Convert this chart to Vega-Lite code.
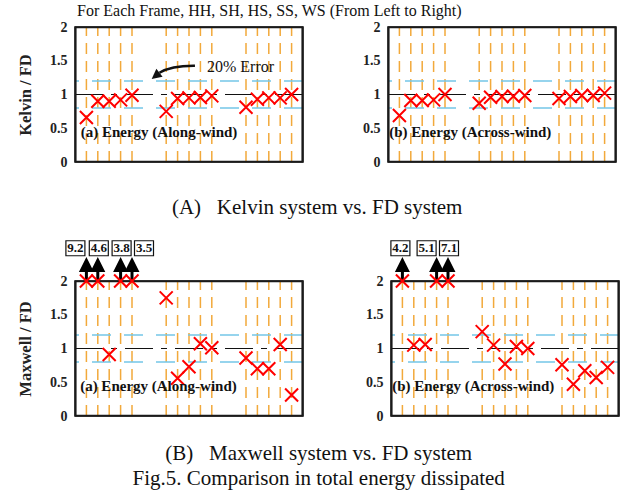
{
  "$schema": "https://vega.github.io/schema/vega-lite/v6.json",
  "background": "white",
  "padding": {"left": 16, "top": 2, "right": 5, "bottom": 5},
  "datasets": {
    "kelvinAlong": [
      {"group": "I", "frame": "HH", "pos": 1, "ratio": 0.66},
      {"group": "I", "frame": "SH", "pos": 2, "ratio": 0.9},
      {"group": "I", "frame": "HS", "pos": 3, "ratio": 0.9},
      {"group": "I", "frame": "SS", "pos": 4, "ratio": 0.92},
      {"group": "I", "frame": "WS", "pos": 5, "ratio": 0.99},
      {"group": "II", "frame": "HH", "pos": 8, "ratio": 0.75},
      {"group": "II", "frame": "SH", "pos": 9, "ratio": 0.94},
      {"group": "II", "frame": "HS", "pos": 10, "ratio": 0.95},
      {"group": "II", "frame": "SS", "pos": 11, "ratio": 0.955},
      {"group": "II", "frame": "WS", "pos": 12, "ratio": 0.98},
      {"group": "III", "frame": "HH", "pos": 15, "ratio": 0.81},
      {"group": "III", "frame": "SH", "pos": 16, "ratio": 0.93},
      {"group": "III", "frame": "HS", "pos": 17, "ratio": 0.95},
      {"group": "III", "frame": "SS", "pos": 18, "ratio": 0.95},
      {"group": "III", "frame": "WS", "pos": 19, "ratio": 1.0}
    ],
    "kelvinAcross": [
      {"group": "I", "frame": "HH", "pos": 1, "ratio": 0.69},
      {"group": "I", "frame": "SH", "pos": 2, "ratio": 0.91},
      {"group": "I", "frame": "HS", "pos": 3, "ratio": 0.91},
      {"group": "I", "frame": "SS", "pos": 4, "ratio": 0.92},
      {"group": "I", "frame": "WS", "pos": 5, "ratio": 1.0},
      {"group": "II", "frame": "HH", "pos": 8, "ratio": 0.87},
      {"group": "II", "frame": "SH", "pos": 9, "ratio": 0.96},
      {"group": "II", "frame": "HS", "pos": 10, "ratio": 0.97},
      {"group": "II", "frame": "SS", "pos": 11, "ratio": 0.975},
      {"group": "II", "frame": "WS", "pos": 12, "ratio": 0.985},
      {"group": "III", "frame": "HH", "pos": 15, "ratio": 0.94},
      {"group": "III", "frame": "SH", "pos": 16, "ratio": 0.97},
      {"group": "III", "frame": "HS", "pos": 17, "ratio": 0.985},
      {"group": "III", "frame": "SS", "pos": 18, "ratio": 0.985},
      {"group": "III", "frame": "WS", "pos": 19, "ratio": 1.02}
    ],
    "maxwellAlong": [
      {"group": "I", "frame": "HH", "pos": 1, "ratio": 9.2},
      {"group": "I", "frame": "SH", "pos": 2, "ratio": 4.6},
      {"group": "I", "frame": "HS", "pos": 3, "ratio": 0.91},
      {"group": "I", "frame": "SS", "pos": 4, "ratio": 3.8},
      {"group": "I", "frame": "WS", "pos": 5, "ratio": 3.5},
      {"group": "II", "frame": "HH", "pos": 8, "ratio": 1.75},
      {"group": "II", "frame": "SH", "pos": 9, "ratio": 0.56},
      {"group": "II", "frame": "HS", "pos": 10, "ratio": 0.73},
      {"group": "II", "frame": "SS", "pos": 11, "ratio": 1.07},
      {"group": "II", "frame": "WS", "pos": 12, "ratio": 1.01},
      {"group": "III", "frame": "HH", "pos": 15, "ratio": 0.86},
      {"group": "III", "frame": "SH", "pos": 16, "ratio": 0.7},
      {"group": "III", "frame": "HS", "pos": 17, "ratio": 0.7},
      {"group": "III", "frame": "SS", "pos": 18, "ratio": 1.06},
      {"group": "III", "frame": "WS", "pos": 19, "ratio": 0.31}
    ],
    "maxwellAcross": [
      {"group": "I", "frame": "HH", "pos": 1, "ratio": 4.2},
      {"group": "I", "frame": "SH", "pos": 2, "ratio": 1.05},
      {"group": "I", "frame": "HS", "pos": 3, "ratio": 1.06},
      {"group": "I", "frame": "SS", "pos": 4, "ratio": 5.1},
      {"group": "I", "frame": "WS", "pos": 5, "ratio": 7.1},
      {"group": "II", "frame": "HH", "pos": 8, "ratio": 1.25},
      {"group": "II", "frame": "SH", "pos": 9, "ratio": 1.05},
      {"group": "II", "frame": "HS", "pos": 10, "ratio": 0.77},
      {"group": "II", "frame": "SS", "pos": 11, "ratio": 1.03},
      {"group": "II", "frame": "WS", "pos": 12, "ratio": 1.0},
      {"group": "III", "frame": "HH", "pos": 15, "ratio": 0.76},
      {"group": "III", "frame": "SH", "pos": 16, "ratio": 0.47},
      {"group": "III", "frame": "HS", "pos": 17, "ratio": 0.67},
      {"group": "III", "frame": "SS", "pos": 18, "ratio": 0.57},
      {"group": "III", "frame": "WS", "pos": 19, "ratio": 0.72}
    ],
    "refs": [
      {"kind": "band", "ref": 0.8},
      {"kind": "band", "ref": 1.2},
      {"kind": "unity", "ref": 1.0},
      {"kind": "hframe", "ref": 0.006},
      {"kind": "hframe", "ref": 1.994}
    ],
    "vframe": [{"xpos": 0.06}, {"xpos": 19.94}]
  },
  "spacing": 19,
  "vconcat": [
    {
      "hconcat": [
        {
          "width": 228, "height": 135,
          "layer": [
            {"data": {"name": "kelvinAlong"}, "mark": {"type": "rule", "stroke": "#F2A93B", "strokeWidth": 1.5, "strokeDash": [11, 7]},
             "encoding": {"x": {"field": "pos", "type": "quantitative", "scale": {"domain": [0, 20]}, "axis": null},
                          "y": {"datum": 0, "type": "quantitative", "scale": {"domain": [0, 2]}, "axis": null}, "y2": {"datum": 2}}},
            {"data": {"name": "refs"}, "transform": [{"filter": "datum.kind == 'band'"}], "mark": {"type": "rule", "stroke": "#74C6E8", "strokeWidth": 1.6, "strokeDash": [19, 13]},
             "encoding": {"y": {"field": "ref", "type": "quantitative", "scale": {"domain": [0, 2]}, "axis": null}}},
            {"data": {"name": "refs"}, "transform": [{"filter": "datum.kind == 'unity'"}], "mark": {"type": "rule", "stroke": "#111", "strokeWidth": 1.2, "strokeDash": [28, 8, 6, 8]},
             "encoding": {"y": {"field": "ref", "type": "quantitative", "scale": {"domain": [0, 2]}, "axis": null}}},
            {"data": {"name": "refs"}, "transform": [{"filter": "datum.kind == 'hframe'"}], "mark": {"type": "rule", "stroke": "#1a1a1a", "strokeWidth": 1.8},
             "encoding": {"y": {"field": "ref", "type": "quantitative", "scale": {"domain": [0, 2]}, "axis": null}}},
            {"data": {"name": "vframe"}, "mark": {"type": "rule", "stroke": "#1a1a1a", "strokeWidth": 1.8},
             "encoding": {"x": {"field": "xpos", "type": "quantitative", "scale": {"domain": [0, 20]}, "axis": null},
                          "y": {"datum": 0, "type": "quantitative", "scale": {"domain": [0, 2]}, "axis": null}, "y2": {"datum": 2}}},
            {"data": {"name": "kelvinAlong"}, "mark": {"type": "point", "shape": "M-1,-1L1,1M-1,1L1,-1", "filled": false, "stroke": "#FF0000", "strokeWidth": 2, "size": 169, "opacity": 1},
             "encoding": {"x": {"field": "pos", "type": "quantitative", "scale": {"domain": [0, 20]}, "axis": {"values": [3, 10, 17], "labelExpr": "datum.value == 3 ? 'I' : datum.value == 10 ? 'II' : 'III'", "ticks": false, "labelPadding": 4, "title": null}},
                          "y": {"field": "ratio", "type": "quantitative", "scale": {"domain": [0, 2], "clamp": true}, "axis": {"title": "Kelvin / FD", "values": [0, 0.5, 1, 1.5, 2], "format": "~g", "ticks": false, "labelPadding": 8, "titlePadding": 16}}}},
            {"data": {"values": [{"label": "(a) Energy (Along-wind)"}]}, "mark": {"type": "text", "align": "left", "baseline": "middle", "fontWeight": "bold", "fontSize": 15, "font": "Liberation Serif", "color": "#111"},
             "encoding": {"x": {"datum": 0.5, "type": "quantitative", "axis": null}, "y": {"datum": 0.44, "type": "quantitative", "scale": {"domain": [0, 2]}, "axis": null}, "text": {"field": "label"}}},
            {"data": {"values": [{"label": "For Each Frame, HH, SH, HS, SS, WS (From Left to Right)"}]}, "mark": {"type": "text", "align": "left", "baseline": "middle", "fontSize": 16, "font": "Liberation Serif", "color": "#111"},
             "encoding": {"x": {"datum": 0.18, "type": "quantitative", "axis": null}, "y": {"datum": 2.237, "type": "quantitative", "scale": {"domain": [0, 2]}, "axis": null}, "text": {"field": "label"}}},
            {"data": {"values": [{"label": "20% Error"}]}, "mark": {"type": "text", "align": "left", "baseline": "middle", "fontSize": 16, "font": "Liberation Serif", "color": "#111"},
             "encoding": {"x": {"datum": 11.58, "type": "quantitative", "axis": null}, "y": {"datum": 1.41, "type": "quantitative", "scale": {"domain": [0, 2]}, "axis": null}, "text": {"field": "label"}}},
            {"data": {"values": [{"label": "20% Error"}]}, "mark": {"type": "point", "shape": "M0.84,-0.21Q-0.1,-0.22,-0.58,0.07", "filled": false, "stroke": "#111", "strokeWidth": 2.5, "size": 2500, "opacity": 1},
             "encoding": {"x": {"datum": 8.68, "type": "quantitative", "axis": null}, "y": {"datum": 1.348, "type": "quantitative", "scale": {"domain": [0, 2]}, "axis": null}}},
            {"data": {"values": [{"label": "20% Error"}]}, "mark": {"type": "point", "shape": "M-0.89,0.32L-0.456,0.226L-0.704,-0.086Z", "filled": true, "fill": "#111", "strokeWidth": 0, "size": 2500, "opacity": 1},
             "encoding": {"x": {"datum": 8.68, "type": "quantitative", "axis": null}, "y": {"datum": 1.348, "type": "quantitative", "scale": {"domain": [0, 2]}, "axis": null}}}
          ],
          "resolve": {"scale": {"y": "independent"}, "axis": {"y": "independent"}}
        },
        {
          "width": 228, "height": 135,
          "layer": [
            {"data": {"name": "kelvinAcross"}, "mark": {"type": "rule", "stroke": "#F2A93B", "strokeWidth": 1.5, "strokeDash": [11, 7]},
             "encoding": {"x": {"field": "pos", "type": "quantitative", "scale": {"domain": [0, 20]}, "axis": null},
                          "y": {"datum": 0, "type": "quantitative", "scale": {"domain": [0, 2]}, "axis": null}, "y2": {"datum": 2}}},
            {"data": {"name": "refs"}, "transform": [{"filter": "datum.kind == 'band'"}], "mark": {"type": "rule", "stroke": "#74C6E8", "strokeWidth": 1.6, "strokeDash": [19, 13]},
             "encoding": {"y": {"field": "ref", "type": "quantitative", "scale": {"domain": [0, 2]}, "axis": null}}},
            {"data": {"name": "refs"}, "transform": [{"filter": "datum.kind == 'unity'"}], "mark": {"type": "rule", "stroke": "#111", "strokeWidth": 1.2, "strokeDash": [28, 8, 6, 8]},
             "encoding": {"y": {"field": "ref", "type": "quantitative", "scale": {"domain": [0, 2]}, "axis": null}}},
            {"data": {"name": "refs"}, "transform": [{"filter": "datum.kind == 'hframe'"}], "mark": {"type": "rule", "stroke": "#1a1a1a", "strokeWidth": 1.8},
             "encoding": {"y": {"field": "ref", "type": "quantitative", "scale": {"domain": [0, 2]}, "axis": null}}},
            {"data": {"name": "vframe"}, "mark": {"type": "rule", "stroke": "#1a1a1a", "strokeWidth": 1.8},
             "encoding": {"x": {"field": "xpos", "type": "quantitative", "scale": {"domain": [0, 20]}, "axis": null},
                          "y": {"datum": 0, "type": "quantitative", "scale": {"domain": [0, 2]}, "axis": null}, "y2": {"datum": 2}}},
            {"data": {"name": "kelvinAcross"}, "mark": {"type": "point", "shape": "M-1,-1L1,1M-1,1L1,-1", "filled": false, "stroke": "#FF0000", "strokeWidth": 2, "size": 169, "opacity": 1},
             "encoding": {"x": {"field": "pos", "type": "quantitative", "scale": {"domain": [0, 20]}, "axis": {"values": [3, 10, 17], "labelExpr": "datum.value == 3 ? 'I' : datum.value == 10 ? 'II' : 'III'", "ticks": false, "labelPadding": 4, "title": null}},
                          "y": {"field": "ratio", "type": "quantitative", "scale": {"domain": [0, 2], "clamp": true}, "axis": {"title": null, "values": [0, 0.5, 1, 1.5, 2], "format": "~g", "ticks": false, "labelPadding": 8}}}},
            {"data": {"values": [{"label": "(b) Energy (Across-wind)"}]}, "mark": {"type": "text", "align": "left", "baseline": "middle", "fontWeight": "bold", "fontSize": 15, "font": "Liberation Serif", "color": "#111"},
             "encoding": {"x": {"datum": 0.1, "type": "quantitative", "axis": null}, "y": {"datum": 0.44, "type": "quantitative", "scale": {"domain": [0, 2]}, "axis": null}, "text": {"field": "label"}}}
          ],
          "resolve": {"scale": {"y": "independent"}, "axis": {"y": "independent"}}
        }
      ],
      "spacing": 85,
      "bounds": "flush",
      "title": {"text": "(A)\u00a0\u00a0\u00a0Kelvin system vs. FD system", "orient": "bottom", "anchor": "middle", "offset": 27}
    },
    {
      "hconcat": [
        {
          "width": 228, "height": 135,
          "layer": [
            {"data": {"name": "maxwellAlong"}, "mark": {"type": "rule", "stroke": "#F2A93B", "strokeWidth": 1.5, "strokeDash": [11, 7]},
             "encoding": {"x": {"field": "pos", "type": "quantitative", "scale": {"domain": [0, 20]}, "axis": null},
                          "y": {"datum": 0, "type": "quantitative", "scale": {"domain": [0, 2]}, "axis": null}, "y2": {"datum": 2}}},
            {"data": {"name": "refs"}, "transform": [{"filter": "datum.kind == 'band'"}], "mark": {"type": "rule", "stroke": "#74C6E8", "strokeWidth": 1.6, "strokeDash": [19, 13]},
             "encoding": {"y": {"field": "ref", "type": "quantitative", "scale": {"domain": [0, 2]}, "axis": null}}},
            {"data": {"name": "refs"}, "transform": [{"filter": "datum.kind == 'unity'"}], "mark": {"type": "rule", "stroke": "#111", "strokeWidth": 1.2, "strokeDash": [28, 8, 6, 8]},
             "encoding": {"y": {"field": "ref", "type": "quantitative", "scale": {"domain": [0, 2]}, "axis": null}}},
            {"data": {"name": "refs"}, "transform": [{"filter": "datum.kind == 'hframe'"}], "mark": {"type": "rule", "stroke": "#1a1a1a", "strokeWidth": 1.8},
             "encoding": {"y": {"field": "ref", "type": "quantitative", "scale": {"domain": [0, 2]}, "axis": null}}},
            {"data": {"name": "vframe"}, "mark": {"type": "rule", "stroke": "#1a1a1a", "strokeWidth": 1.8},
             "encoding": {"x": {"field": "xpos", "type": "quantitative", "scale": {"domain": [0, 20]}, "axis": null},
                          "y": {"datum": 0, "type": "quantitative", "scale": {"domain": [0, 2]}, "axis": null}, "y2": {"datum": 2}}},
            {"data": {"name": "maxwellAlong"}, "transform": [{"filter": "datum.ratio > 2"}], "mark": {"type": "point", "shape": "M0,-1L0.625,0.25L0.125,0.25L0.125,1L-0.125,1L-0.125,0.25L-0.625,0.25Z", "filled": true, "fill": "#000", "strokeWidth": 0, "size": 576, "opacity": 1},
             "encoding": {"x": {"field": "pos", "type": "quantitative", "scale": {"domain": [0, 20]}, "axis": null}, "y": {"datum": 2.176, "type": "quantitative", "scale": {"domain": [0, 2]}, "axis": null}}},
            {"data": {"name": "maxwellAlong"}, "transform": [{"filter": "datum.ratio > 2 && datum.pos == 1"}],
             "encoding": {"x": {"field": "pos", "type": "quantitative", "scale": {"domain": [0, 20]}, "axis": null}, "y": {"datum": 2.485, "type": "quantitative", "scale": {"domain": [0, 2]}, "axis": null}},
             "layer": [
               {"mark": {"type": "point", "shape": "M-1,-0.79H1V0.79H-1Z", "filled": true, "fill": "white", "stroke": "#111", "strokeWidth": 1.2, "size": 361, "opacity": 1, "xOffset": -11}},
               {"mark": {"type": "text", "fontWeight": "bold", "fontSize": 13, "font": "Liberation Serif", "baseline": "middle", "xOffset": -11, "color": "#111"}, "encoding": {"text": {"field": "ratio", "format": ".1f"}}}
             ]},
            {"data": {"name": "maxwellAlong"}, "transform": [{"filter": "datum.ratio > 2 && (datum.pos == 2 || datum.pos == 4)"}],
             "encoding": {"x": {"field": "pos", "type": "quantitative", "scale": {"domain": [0, 20]}, "axis": null}, "y": {"datum": 2.485, "type": "quantitative", "scale": {"domain": [0, 2]}, "axis": null}},
             "layer": [
               {"mark": {"type": "point", "shape": "M-1,-0.79H1V0.79H-1Z", "filled": true, "fill": "white", "stroke": "#111", "strokeWidth": 1.2, "size": 361, "opacity": 1, "xOffset": 1}},
               {"mark": {"type": "text", "fontWeight": "bold", "fontSize": 13, "font": "Liberation Serif", "baseline": "middle", "xOffset": 1, "color": "#111"}, "encoding": {"text": {"field": "ratio", "format": ".1f"}}}
             ]},
            {"data": {"name": "maxwellAlong"}, "transform": [{"filter": "datum.ratio > 2 && datum.pos == 5"}],
             "encoding": {"x": {"field": "pos", "type": "quantitative", "scale": {"domain": [0, 20]}, "axis": null}, "y": {"datum": 2.485, "type": "quantitative", "scale": {"domain": [0, 2]}, "axis": null}},
             "layer": [
               {"mark": {"type": "point", "shape": "M-1,-0.79H1V0.79H-1Z", "filled": true, "fill": "white", "stroke": "#111", "strokeWidth": 1.2, "size": 361, "opacity": 1, "xOffset": 12}},
               {"mark": {"type": "text", "fontWeight": "bold", "fontSize": 13, "font": "Liberation Serif", "baseline": "middle", "xOffset": 12, "color": "#111"}, "encoding": {"text": {"field": "ratio", "format": ".1f"}}}
             ]},
            {"data": {"name": "maxwellAlong"}, "mark": {"type": "point", "shape": "M-1,-1L1,1M-1,1L1,-1", "filled": false, "stroke": "#FF0000", "strokeWidth": 2, "size": 169, "opacity": 1},
             "encoding": {"x": {"field": "pos", "type": "quantitative", "scale": {"domain": [0, 20]}, "axis": {"values": [3, 10, 17], "labelExpr": "datum.value == 3 ? 'I' : datum.value == 10 ? 'II' : 'III'", "ticks": false, "labelPadding": 4, "title": null}},
                          "y": {"field": "ratio", "type": "quantitative", "scale": {"domain": [0, 2], "clamp": true}, "axis": {"title": "Maxwell / FD", "values": [0, 0.5, 1, 1.5, 2], "format": "~g", "ticks": false, "labelPadding": 8, "titlePadding": 16}}}},
            {"data": {"values": [{"label": "(a) Energy (Along-wind)"}]}, "mark": {"type": "text", "align": "left", "baseline": "middle", "fontWeight": "bold", "fontSize": 15, "font": "Liberation Serif", "color": "#111"},
             "encoding": {"x": {"datum": 0.45, "type": "quantitative", "axis": null}, "y": {"datum": 0.44, "type": "quantitative", "scale": {"domain": [0, 2]}, "axis": null}, "text": {"field": "label"}}}
          ],
          "resolve": {"scale": {"y": "independent"}, "axis": {"y": "independent"}}
        },
        {
          "width": 228, "height": 135,
          "layer": [
            {"data": {"name": "maxwellAcross"}, "mark": {"type": "rule", "stroke": "#F2A93B", "strokeWidth": 1.5, "strokeDash": [11, 7]},
             "encoding": {"x": {"field": "pos", "type": "quantitative", "scale": {"domain": [0, 20]}, "axis": null},
                          "y": {"datum": 0, "type": "quantitative", "scale": {"domain": [0, 2]}, "axis": null}, "y2": {"datum": 2}}},
            {"data": {"name": "refs"}, "transform": [{"filter": "datum.kind == 'band'"}], "mark": {"type": "rule", "stroke": "#74C6E8", "strokeWidth": 1.6, "strokeDash": [19, 13]},
             "encoding": {"y": {"field": "ref", "type": "quantitative", "scale": {"domain": [0, 2]}, "axis": null}}},
            {"data": {"name": "refs"}, "transform": [{"filter": "datum.kind == 'unity'"}], "mark": {"type": "rule", "stroke": "#111", "strokeWidth": 1.2, "strokeDash": [28, 8, 6, 8]},
             "encoding": {"y": {"field": "ref", "type": "quantitative", "scale": {"domain": [0, 2]}, "axis": null}}},
            {"data": {"name": "refs"}, "transform": [{"filter": "datum.kind == 'hframe'"}], "mark": {"type": "rule", "stroke": "#1a1a1a", "strokeWidth": 1.8},
             "encoding": {"y": {"field": "ref", "type": "quantitative", "scale": {"domain": [0, 2]}, "axis": null}}},
            {"data": {"name": "vframe"}, "mark": {"type": "rule", "stroke": "#1a1a1a", "strokeWidth": 1.8},
             "encoding": {"x": {"field": "xpos", "type": "quantitative", "scale": {"domain": [0, 20]}, "axis": null},
                          "y": {"datum": 0, "type": "quantitative", "scale": {"domain": [0, 2]}, "axis": null}, "y2": {"datum": 2}}},
            {"data": {"name": "maxwellAcross"}, "transform": [{"filter": "datum.ratio > 2"}], "mark": {"type": "point", "shape": "M0,-1L0.625,0.25L0.125,0.25L0.125,1L-0.125,1L-0.125,0.25L-0.625,0.25Z", "filled": true, "fill": "#000", "strokeWidth": 0, "size": 576, "opacity": 1},
             "encoding": {"x": {"field": "pos", "type": "quantitative", "scale": {"domain": [0, 20]}, "axis": null}, "y": {"datum": 2.176, "type": "quantitative", "scale": {"domain": [0, 2]}, "axis": null}}},
            {"data": {"name": "maxwellAcross"}, "transform": [{"filter": "datum.ratio > 2 && datum.pos == 1"}],
             "encoding": {"x": {"field": "pos", "type": "quantitative", "scale": {"domain": [0, 20]}, "axis": null}, "y": {"datum": 2.485, "type": "quantitative", "scale": {"domain": [0, 2]}, "axis": null}},
             "layer": [
               {"mark": {"type": "point", "shape": "M-1,-0.79H1V0.79H-1Z", "filled": true, "fill": "white", "stroke": "#111", "strokeWidth": 1.2, "size": 361, "opacity": 1, "xOffset": -2}},
               {"mark": {"type": "text", "fontWeight": "bold", "fontSize": 13, "font": "Liberation Serif", "baseline": "middle", "xOffset": -2, "color": "#111"}, "encoding": {"text": {"field": "ratio", "format": ".1f"}}}
             ]},
            {"data": {"name": "maxwellAcross"}, "transform": [{"filter": "datum.ratio > 2 && datum.pos == 4"}],
             "encoding": {"x": {"field": "pos", "type": "quantitative", "scale": {"domain": [0, 20]}, "axis": null}, "y": {"datum": 2.485, "type": "quantitative", "scale": {"domain": [0, 2]}, "axis": null}},
             "layer": [
               {"mark": {"type": "point", "shape": "M-1,-0.79H1V0.79H-1Z", "filled": true, "fill": "white", "stroke": "#111", "strokeWidth": 1.2, "size": 361, "opacity": 1, "xOffset": -10}},
               {"mark": {"type": "text", "fontWeight": "bold", "fontSize": 13, "font": "Liberation Serif", "baseline": "middle", "xOffset": -10, "color": "#111"}, "encoding": {"text": {"field": "ratio", "format": ".1f"}}}
             ]},
            {"data": {"name": "maxwellAcross"}, "transform": [{"filter": "datum.ratio > 2 && datum.pos == 5"}],
             "encoding": {"x": {"field": "pos", "type": "quantitative", "scale": {"domain": [0, 20]}, "axis": null}, "y": {"datum": 2.485, "type": "quantitative", "scale": {"domain": [0, 2]}, "axis": null}},
             "layer": [
               {"mark": {"type": "point", "shape": "M-1,-0.79H1V0.79H-1Z", "filled": true, "fill": "white", "stroke": "#111", "strokeWidth": 1.2, "size": 361, "opacity": 1, "xOffset": 1}},
               {"mark": {"type": "text", "fontWeight": "bold", "fontSize": 13, "font": "Liberation Serif", "baseline": "middle", "xOffset": 1, "color": "#111"}, "encoding": {"text": {"field": "ratio", "format": ".1f"}}}
             ]},
            {"data": {"name": "maxwellAcross"}, "mark": {"type": "point", "shape": "M-1,-1L1,1M-1,1L1,-1", "filled": false, "stroke": "#FF0000", "strokeWidth": 2, "size": 169, "opacity": 1},
             "encoding": {"x": {"field": "pos", "type": "quantitative", "scale": {"domain": [0, 20]}, "axis": {"values": [3, 10, 17], "labelExpr": "datum.value == 3 ? 'I' : datum.value == 10 ? 'II' : 'III'", "ticks": false, "labelPadding": 4, "title": null}},
                          "y": {"field": "ratio", "type": "quantitative", "scale": {"domain": [0, 2], "clamp": true}, "axis": {"title": null, "values": [0, 0.5, 1, 1.5, 2], "format": "~g", "ticks": false, "labelPadding": 8}}}},
            {"data": {"values": [{"label": "(b) Energy (Across-wind)"}]}, "mark": {"type": "text", "align": "left", "baseline": "middle", "fontWeight": "bold", "fontSize": 15, "font": "Liberation Serif", "color": "#111"},
             "encoding": {"x": {"datum": 0.1, "type": "quantitative", "axis": null}, "y": {"datum": 0.44, "type": "quantitative", "scale": {"domain": [0, 2]}, "axis": null}, "text": {"field": "label"}}}
          ],
          "resolve": {"scale": {"y": "independent"}, "axis": {"y": "independent"}}
        }
      ],
      "spacing": 88,
      "bounds": "flush",
      "title": {"text": ["(B)\u00a0\u00a0\u00a0Maxwell system vs. FD system", "Fig.5. Comparison in total energy dissipated"], "orient": "bottom", "anchor": "middle", "offset": 19, "lineHeight": 25}
    }
  ],
  "config": {
    "view": {"stroke": "black", "strokeWidth": 1.5},
    "font": "Liberation Serif",
    "axis": {"labelFont": "Liberation Serif", "labelFontWeight": "bold", "labelFontSize": 14, "labelColor": "#222", "titleFont": "Liberation Serif", "titleFontWeight": "bold", "titleFontSize": 16.5, "titleColor": "#222", "grid": false, "domain": false, "tickColor": "black"},
    "title": {"font": "Liberation Serif", "fontWeight": "normal", "fontSize": 21, "color": "#111"}
  }
}
